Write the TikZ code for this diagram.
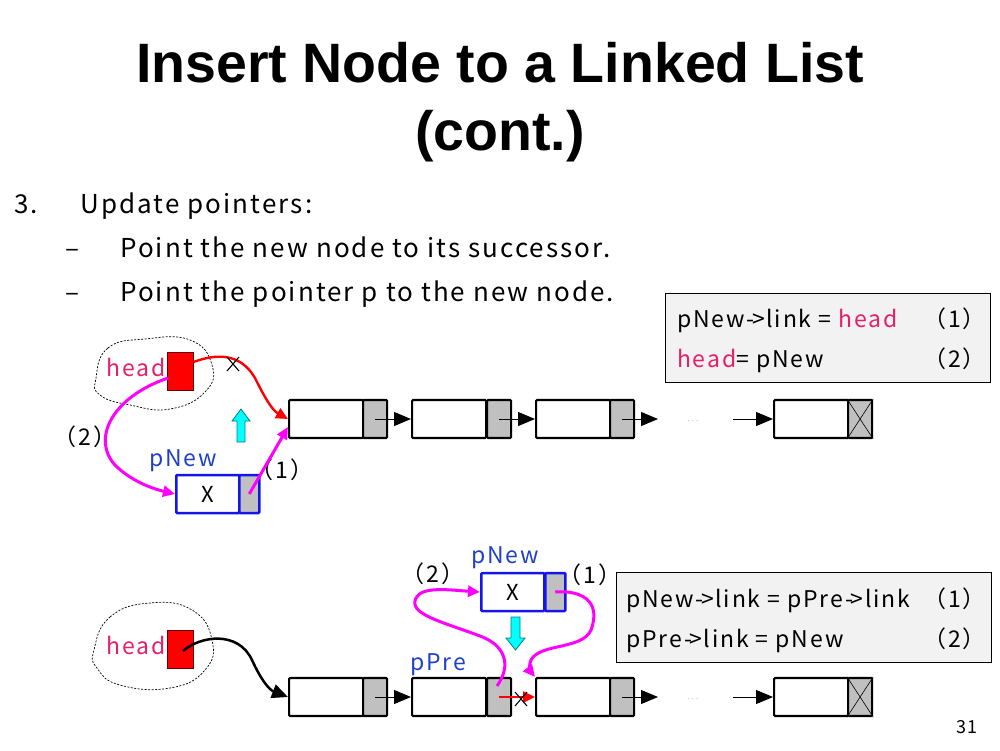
\documentclass[tikz,border=0pt]{standalone}
\usepackage{fontspec}
\setmainfont{Liberation Sans}
\newfontfamily\jp[LetterSpace=8]{Noto Sans CJK JP}
\usetikzlibrary{arrows.meta}
\definecolor{headpink}{RGB}{228,32,104}
\definecolor{ptrblue}{RGB}{32,64,200}
\definecolor{boxblue}{RGB}{20,20,235}
\definecolor{linkgray}{RGB}{192,192,192}
\definecolor{codebg}{RGB}{242,242,242}
\definecolor{cyanfill}{RGB}{0,255,255}
\definecolor{magline}{RGB}{255,0,255}
\newcommand\ptrto{-\kern-0.12em>}
\begin{document}
\begin{tikzpicture}[x=1pt,y=-1pt,
  datap/.style={draw, line width=2.2pt, rounded corners=1pt, minimum width=74pt, minimum height=38pt, inner sep=0pt, fill=white, anchor=west},
  linkp/.style={draw, line width=2.2pt, rounded corners=1pt, minimum width=24pt, minimum height=38pt, inner sep=0pt, fill=linkgray, anchor=west},
  newdata/.style={datap, draw=boxblue, line width=2.5pt, minimum width=63pt, font=\jp\fontsize{22}{26}\selectfont},
  newlink/.style={linkp, draw=boxblue, line width=2.5pt, minimum width=20pt},
  headbox/.style={draw=black!60!red, fill=red, line width=1pt, minimum width=26pt, minimum height=38pt, inner sep=0pt},
  lbl/.style={font=\jp\fontsize{23}{26}\selectfont, inner sep=0pt},
  body/.style={font=\jp\fontsize{26}{30}\selectfont, inner sep=0pt, anchor=base west},
  nextarr/.style={line width=1pt, -{Triangle[length=17pt,width=14pt]}},
  magarr/.style={draw=magline, line width=3pt, -{Triangle[length=12pt,width=11pt]}},
  redarr/.style={draw=red, line width=2.4pt, -{Triangle[length=12pt,width=11pt]}},
  crossmark/.style={line width=1.1pt},
  blob/.style={draw, dashed, dash pattern=on 2pt off 1.5pt, line width=0.7pt},
  codebox/.style={draw, line width=1.2pt, fill=codebg, inner sep=0pt, anchor=north west},
  cyanarrow/.style={fill=cyanfill, draw=teal, line width=0.8pt}
]
\useasboundingbox (0,0) rectangle (1000,750);

% ---- title ----
\node[anchor=base, font=\fontsize{55.5}{60}\selectfont\bfseries, inner sep=0pt] (title1) at (500,82) {Insert Node to a Linked List};
\node[anchor=base, font=\fontsize{55.5}{60}\selectfont\bfseries, inner sep=0pt] (title2) at (500,150) {(cont.)};

% ---- bullet text ----
\node[body] (num3) at (14,213) {3.};
\node[body] (upd) at (80,213) {Update pointers:};
\node[body] (dash1) at (65,257) {–};
\node[body] (pt1) at (120,257) {Point the new node to its successor.};
\node[body] (dash2) at (65,301) {–};
\node[body] (pt2) at (120,301) {Point the pointer p to the new node.};

% ---- code box, first case ----
\node[codebox, minimum width=325pt, minimum height=89pt] (codeA) at (665,293) {};
\node[lbl, anchor=base west] (codeA1) at (677,327) {pNew\ptrto link = \textcolor{headpink}{head}};
\node[lbl, anchor=base east] (codeA1n) at (986,327) {（1）};
\node[lbl, anchor=base west] (codeA2) at (677,367) {\textcolor{headpink}{head}= pNew};
\node[lbl, anchor=base east] (codeA2n) at (986,367) {（2）};

% ---- first list ----
\node[datap] (a1) at (288,419) {};
\node[linkp] (a1l) at (362,419) {};
\node[datap] (a2) at (411,419) {};
\node[linkp] (a2l) at (486,419) {};
\node[datap] (a3) at (535,419) {};
\node[linkp] (a3l) at (609,419) {};
\node[datap] (a4) at (773,419) {};
\node[linkp] (a4l) at (847,419) {};
\draw[line width=0.6pt] (a4l.north west) -- (a4l.south east) (a4l.north east) -- (a4l.south west);
\coordinate (a3end) at (658,419);
\coordinate (a4start) at (733,419);
\node[text=gray, font=\fontsize{9}{10}\selectfont] (dotsA) at (693,421) {$\cdots$};
\draw[nextarr] (a1l.center) -- (a2.west);
\draw[nextarr] (a2l.center) -- (a3.west);
\draw[nextarr] (a3l.center) -- (a3end);
\draw[nextarr] (a4start) -- (a4.west);

% head pointer, first case
\draw[blob] plot[smooth cycle, tension=0.8] coordinates {(96,378) (108,348) (145,339) (190,340) (212,365) (205,392) (170,409) (130,405) (100,395)};
\node[lbl, text=headpink, anchor=east] (headA) at (166,367) {head};
\node[headbox] (hA) at (180,371) {};
\draw[redarr] (hA.east |- 0,362) .. controls (215,354) and (240,352) .. (255,378) .. controls (265,398) and (272,410) .. (a1.west);
\draw[crossmark] (227,357) -- (239,371) (239,357) -- (227,371);

% new node, first case
\node[newdata] (nA) at (175,494) {X};
\node[newlink] (nAl) at (238,494) {};
\node[lbl, text=ptrblue, anchor=base] (pNewA) at (183,466) {pNew};
\node[lbl] (twoA) at (85,437) {（2）};
\node[lbl] (oneA) at (282,470) {（1）};
\draw[magarr] (nAl.center) -- (a1.south west |- 0,427);
\draw[magarr] (168,378) .. controls (110,398) and (92,440) .. (115,465) .. controls (130,480) and (150,488) .. (nA.west);
\draw[cyanarrow] (237,442) -- (245,442) -- (245,421) -- (250,421) -- (241,409) -- (232,421) -- (237,421) -- cycle;

% ---- code box, second case ----
\node[codebox, minimum width=375pt, minimum height=90pt] (codeB) at (616,572) {};
\node[lbl, anchor=base west] (codeB1) at (626,607) {pNew\ptrto link = pPre\ptrto link};
\node[lbl, anchor=base east] (codeB1n) at (986,607) {（1）};
\node[lbl, anchor=base west] (codeB2) at (626,647) {pPre\ptrto link = pNew};
\node[lbl, anchor=base east] (codeB2n) at (986,647) {（2）};

% ---- second list ----
\node[datap] (b1) at (288,697) {};
\node[linkp] (b1l) at (362,697) {};
\node[datap] (b2) at (411,697) {};
\node[linkp] (b2l) at (486,697) {};
\node[datap] (b3) at (535,697) {};
\node[linkp] (b3l) at (609,697) {};
\node[datap] (b4) at (773,697) {};
\node[linkp] (b4l) at (847,697) {};
\draw[line width=0.6pt] (b4l.north west) -- (b4l.south east) (b4l.north east) -- (b4l.south west);
\coordinate (b3end) at (658,697);
\coordinate (b4start) at (733,697);
\node[text=gray, font=\fontsize{9}{10}\selectfont] (dotsB) at (693,699) {$\cdots$};
\draw[nextarr] (b1l.center) -- (b2.west);
\draw[redarr] (b2l.center) -- (b3.west);
\draw[crossmark] (515,692) -- (527,706) (527,692) -- (515,706);
\draw[nextarr] (b3l.center) -- (b3end);
\draw[nextarr] (b4start) -- (b4.west);

% head pointer, second case
\draw[blob] plot[smooth cycle, tension=0.8] coordinates {(94,650) (110,617) (150,603) (192,610) (212,640) (205,670) (170,688) (120,685) (97,668)};
\node[lbl, text=headpink, anchor=east] (headB) at (166,645) {head};
\node[headbox] (hB) at (180,649) {};
\draw[line width=2.5pt, -{Triangle[length=16pt,width=14pt]}] (183,651) .. controls (200,636) and (238,630) .. (252,660) .. controls (262,682) and (270,690) .. (b1.west);

% new node, second case
\node[newdata] (nB) at (480,592) {X};
\node[newlink] (nBl) at (544,592) {};
\node[lbl, text=ptrblue, anchor=base] (pNewB) at (505,563) {pNew};
\node[lbl, text=ptrblue, anchor=base] (pPreB) at (438,670) {pPre};
\node[lbl] (twoB) at (433,574) {（2）};
\node[lbl] (oneB) at (590,575) {（1）};
\draw[magarr] (nBl.center) .. controls (580,590) and (602,600) .. (591,630) .. controls (582,650) and (540,643) .. (531,660) .. controls (528,668) and (531,672) .. (b3.north west);
\draw[magarr] (497,686) .. controls (512,665) and (505,645) .. (480,636) .. controls (440,621) and (408,614) .. (416,598) .. controls (422,586) and (450,590) .. (nB.west);
\draw[cyanarrow] (511,617) -- (520,617) -- (520,638) -- (525,638) -- (515.5,650) -- (506,638) -- (511,638) -- cycle;

% page number
\node[lbl, font=\jp\fontsize{18}{20}\selectfont, anchor=base east] (pageno) at (978,733) {31};
\end{tikzpicture}
\end{document}
